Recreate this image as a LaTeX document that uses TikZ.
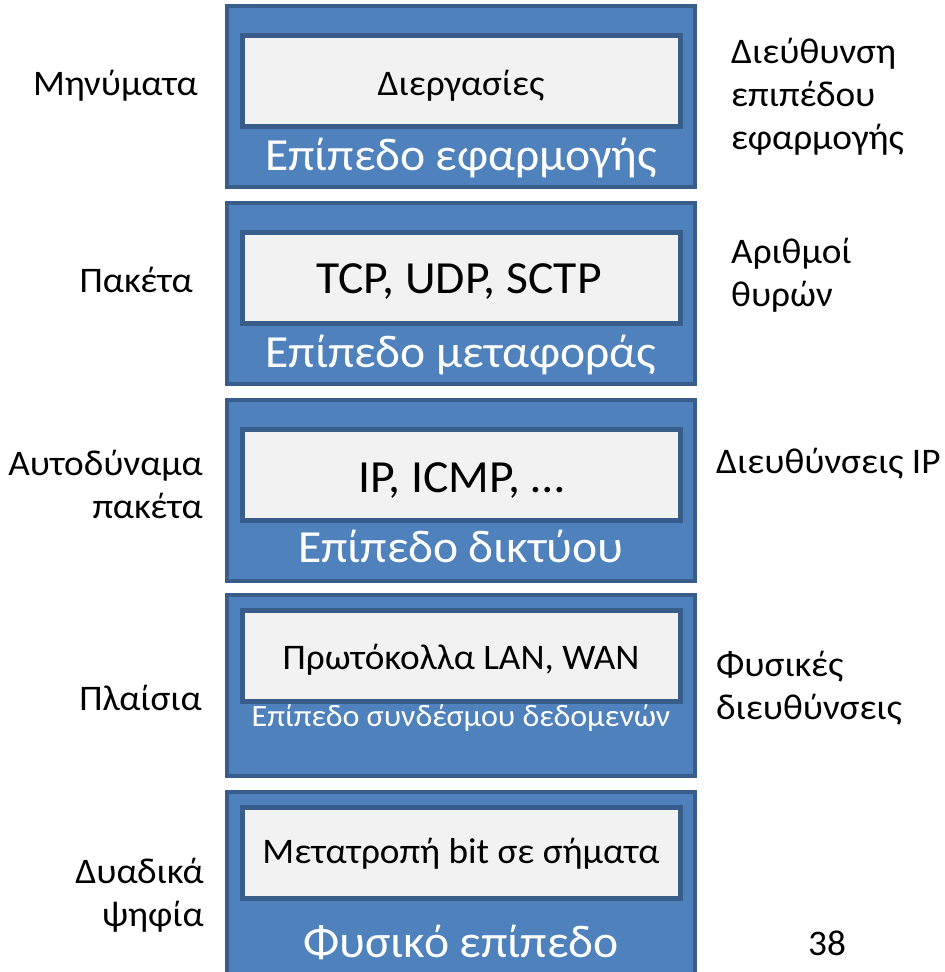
\documentclass[tikz,border=0pt]{standalone}
\usepackage{fontspec}
\setmainfont{Carlito}[FakeStretch=1.035]
\definecolor{outerfill}{HTML}{4F81BD}
\definecolor{edgeblue}{HTML}{385D8A}
\definecolor{innerfill}{HTML}{F2F2F2}
\begin{document}
\begin{tikzpicture}[x=1pt,y=-1pt,
  layerbox/.style={fill=outerfill,draw=edgeblue,line width=4pt,anchor=north west,
    minimum width=468pt,minimum height=181pt,inner sep=0pt,outer sep=0pt},
  innerbox/.style={fill=innerfill,draw=edgeblue,line width=4.5pt,anchor=north west,
    minimum width=438pt,minimum height=91pt,inner sep=0pt,outer sep=0pt},
  lbl/.style={inner sep=0pt,font=\fontsize{36}{43}\selectfont},
  big/.style={inner sep=0pt,font=\fontsize{46}{55}\selectfont},
  huge/.style={inner sep=0pt,text=white,font=\fontsize{46}{55}\selectfont},
  small/.style={inner sep=0pt,text=white,font=\fontsize{31}{37}\selectfont}]
\useasboundingbox (0,0) rectangle (945,972);

% layer boxes
\node[layerbox] (L1) at (227,6) {};
\node[layerbox] (L2) at (227,203) {};
\node[layerbox] (L3) at (227,400) {};
\node[layerbox] (L4) at (227,595) {};
\node[layerbox,minimum height=200pt] (L5) at (227,792) {};

\node[innerbox] (I1) at (242.5,35.5) {};
\node[innerbox] (I2) at (242.5,232.5) {};
\node[innerbox] (I3) at (242.5,429.5) {};
\node[innerbox] (I4) at (242.5,610.5) {};
\node[innerbox] (I5) at (242.5,807.5) {};

% inner texts
\node[lbl,anchor=base] (T1) at (461,95) {Διεργασίες};
\node[big,anchor=base] (T2) at (459,293) {TCP, UDP, SCTP};
\node[big,anchor=base] (T3) at (461,492) {IP, ICMP, …};
\node[lbl,anchor=base] (T4) at (461,669) {Πρωτόκολλα LAN, WAN};
\node[lbl,anchor=base] (T5) at (461,863) {Μετατροπή bit σε σήματα};

% layer names
\node[huge,anchor=base] (N1) at (461,170) {Επίπεδο εφαρμογής};
\node[huge,anchor=base] (N2) at (461,367) {Επίπεδο μεταφοράς};
\node[huge,anchor=base] (N3) at (461,562) {Επίπεδο δικτύου};
\node[small,anchor=base] (N4) at (461,726) {Επίπεδο συνδέσμου δεδομενών};
\node[huge,anchor=base] (N5) at (461,957) {Φυσικό επίπεδο};

% left labels
\node[lbl,anchor=base east] (A1) at (198,95) {Μηνύματα};
\node[lbl,anchor=base east] (A2) at (193,292) {Πακέτα};
\node[lbl,anchor=base east] (A3a) at (203,475) {Αυτοδύναμα};
\node[lbl,anchor=base east] (A3b) at (203,518) {πακέτα};
\node[lbl,anchor=base east] (A4) at (202,710) {Πλαίσια};
\node[lbl,anchor=base east] (A5a) at (204,883) {Δυαδικά};
\node[lbl,anchor=base east] (A5b) at (204,926) {ψηφία};

% right labels
\node[lbl,anchor=base west] (B1a) at (731,63) {Διεύθυνση};
\node[lbl,anchor=base west] (B1b) at (731,106) {επιπέδου};
\node[lbl,anchor=base west] (B1c) at (731,149) {εφαρμογής};
\node[lbl,anchor=base west] (B2a) at (731,263) {Αριθμοί};
\node[lbl,anchor=base west] (B2b) at (731,306) {θυρών};
\node[lbl,anchor=base west] (B3) at (716,473) {Διευθύνσεις IP};
\node[lbl,anchor=base west] (B4a) at (716,676) {Φυσικές};
\node[lbl,anchor=base west] (B4b) at (716,719) {διευθύνσεις};
\node[lbl,anchor=base west] (P) at (808,955) {38};
\end{tikzpicture}
\end{document}
